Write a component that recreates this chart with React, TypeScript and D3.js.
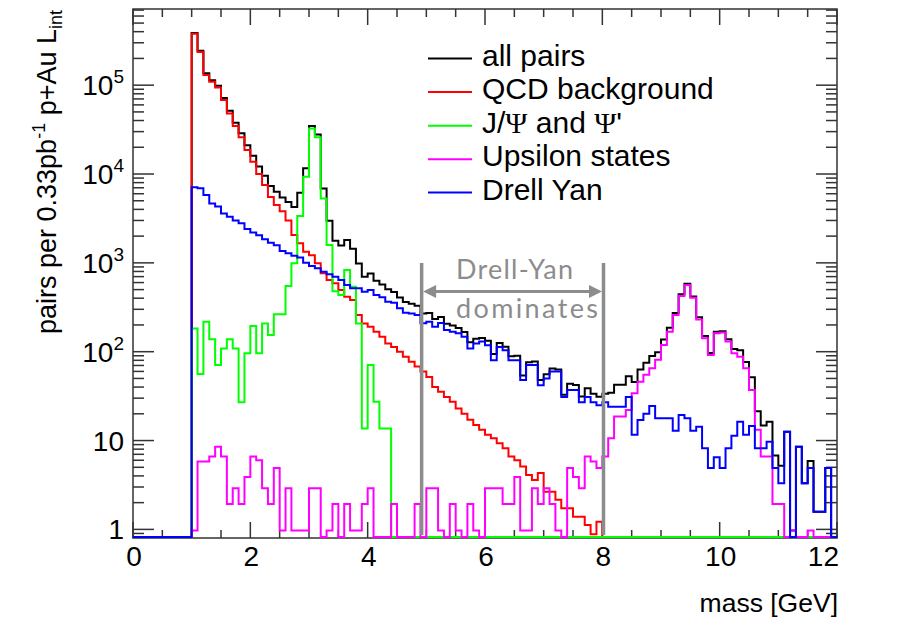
import React, { useEffect, useRef } from 'react'
import * as d3 from 'd3'

// low edges of the 0.1 GeV mass bins, 0 .. 11.9
const massBins = d3.range(120).map(i => i / 10)

const allPairs = [
  0, 0, 0, 0, 0, 0, 0, 0, 0, 0,
  387000, 244000, 136000, 113800, 98400, 71700, 51400, 37700, 28800, 21100,
  16100, 12150, 9550, 7340, 6320, 5425, 4830, 4250, 6170, 11630,
  34740, 27860, 6860, 2975, 1768, 1569, 1811, 1438, 985, 697,
  759, 629, 570, 503, 471, 408, 363, 347, 329, 269,
  273, 234, 246, 206, 197, 185, 167, 128, 140, 143,
  133, 94, 125, 114, 89, 90, 54, 76, 77.5, 48,
  55.6, 64.6, 63, 32.7, 43.6, 42.3, 31.3, 38.7, 33.7, 31.1,
  33.6, 34.6, 42.6, 42.6, 53, 45.6, 63, 75, 89.5, 98.8,
  137, 186, 272, 443, 581, 418, 245, 150, 97, 167.5,
  170, 138, 107, 104, 76.6, 51.6, 21.4, 14.8, 16.3, 6.8,
  5.2, 12.6, 0.97, 8.5, 3.3, 5.9, 1.58, 1.58, 4.9, 0,
]

const qcdBackground = [
  0, 0, 0, 0, 0, 0, 0, 0, 0, 0,
  380000, 237000, 130000, 109000, 94000, 68000, 48000, 34600, 26000, 18600,
  13700, 10000, 7500, 5500, 4470, 3800, 3000, 2060, 1660, 1330,
  1220, 987, 762, 641, 588, 494, 416, 382, 259, 208,
  191, 168, 147, 124, 113, 100, 88, 77, 68, 60,
  52, 40, 35.5, 31, 27.4, 23, 20, 17.1, 15, 13.2,
  11.6, 10.6, 9.3, 8.2, 6.6, 6.0, 5.1, 4.1, 3.6, 4.3,
  2.66, 2.66, 2.15, 1.73, 1.73, 1.39, 1.39, 1.12, 0.88, 1.22,
  0, 0, 0, 0, 0, 0, 0, 0, 0, 0,
  0, 0, 0, 0, 0, 0, 0, 0, 0, 0,
  0, 0, 0, 0, 0, 0, 0, 0, 0, 0,
  0, 0, 0, 0, 0, 0, 0, 0, 0, 0,
]

const jpsi = [
  0, 0, 0, 0, 0, 0, 0, 0, 0, 0,
  183, 56, 218, 138, 71, 109, 138, 109, 27, 96,
  195, 96, 208, 154, 264, 264, 548, 987, 3360, 9300,
  32600, 26000, 5300, 1590, 480, 434, 830, 538, 208, 13.7,
  71, 27.4, 13.7, 13.7, 0, 0, 0, 0, 0, 0,
  0, 0, 0, 0, 0, 0, 0, 0, 0, 0,
  0, 0, 0, 0, 0, 0, 0, 0, 0, 0,
  0, 0, 0, 0, 0, 0, 0, 0, 0, 0,
  0, 0, 0, 0, 0, 0, 0, 0, 0, 0,
  0, 0, 0, 0, 0, 0, 0, 0, 0, 0,
  0, 0, 0, 0, 0, 0, 0, 0, 0, 0,
  0, 0, 0, 0, 0, 0, 0, 0, 0, 0,
]

const upsilon = [
  0, 0, 0, 0, 0, 0, 0, 0, 0, 0,
  0.97, 5.8, 5.8, 6.6, 8.5, 6.6, 1.93, 2.9, 1.93, 3.9,
  6.6, 6.0, 2.9, 1.93, 4.9, 0.97, 2.9, 0.97, 0.97, 0.97,
  2.9, 2.9, 0, 0.97, 1.93, 0, 1.93, 0.97, 0.97, 1.93,
  2.9, 0, 0, 0, 1.93, 0, 0, 0, 1.93, 0,
  2.9, 2.9, 0.97, 0, 1.93, 0.97, 0, 1.93, 0.97, 0,
  2.9, 2.9, 2.9, 1.93, 1.93, 3.9, 0.97, 0.97, 2.9, 1.93,
  2.9, 1.93, 0.97, 0, 4.9, 3.9, 2.9, 6.6, 5.8, 4.9,
  6.6, 10.6, 18.6, 18.6, 22, 34, 46, 55, 65, 81,
  119, 168, 259, 424, 563, 405, 231, 142, 92, 161,
  165, 130, 96, 88, 65, 37, 13.2, 6.6, 6.6, 1.93,
  1.93, 0, 0.97, 0, 0, 0.97, 0, 0, 0, 0,
]

const drellYan = [
  0, 0, 0, 0, 0, 0, 0, 0, 0, 0,
  7100, 6900, 5800, 4670, 4300, 3600, 3300, 3000, 2800, 2400,
  2200, 2050, 1840, 1680, 1580, 1360, 1280, 1200, 1150, 1000,
  920, 867, 794, 743, 698, 641, 563, 517, 517, 473,
  494, 434, 409, 365, 356, 308, 275, 270, 259, 209,
  218, 191, 210, 175, 168, 161, 147, 109, 124, 130,
  118, 80, 113, 104, 80, 80, 48, 71, 71, 42,
  50, 60, 60, 31, 37, 37, 27, 31, 27, 25,
  27, 24, 24, 24, 31, 11.6, 17, 20, 24.5, 17.8,
  17.8, 17.8, 12.9, 19.4, 17.8, 12.9, 14.3, 8.2, 4.9, 6.5,
  4.9, 8.2, 11.3, 16.3, 11.6, 14.6, 8.2, 8.2, 9.7, 4.9,
  3.3, 12.6, 0, 8.5, 3.3, 4.9, 1.58, 1.58, 4.9, 0,
]

const series = [
  { name: 'all pairs', color: '#000000', values: allPairs },
  { name: 'QCD background', color: '#ff0000', values: qcdBackground },
  { name: 'J/Ψ and Ψ\'', color: '#00ff00', values: jpsi },
  { name: 'Upsilon states', color: '#ff00ff', values: upsilon },
  { name: 'Drell Yan', color: '#0000ff', values: drellYan },
]

const xTicks = [0, 2, 4, 6, 8, 10, 12]
const decades = [1, 10, 100, 1000, 10000, 100000]

const W = 898
const H = 627
const FONT = "'Liberation Sans', Arial, Helvetica, sans-serif"

const App = () => {
  const ref = useRef<SVGSVGElement>(null)

  useEffect(() => {
    const svg = d3.select(ref.current)
    svg.selectAll('*').remove()

    const left = 133, right = 837, top = 9, bottom = 538

    const x = d3.scaleLinear().domain([0, 12]).range([left, right])
    const y = d3.scaleLog().domain([0.8, 7.2e5]).range([bottom, top]).clamp(true)
    const yv = (v: number) => (v > 0 ? y(v) : bottom - 1)

    svg.append('rect').attr('width', W).attr('height', H).attr('fill', 'white')

    const axisColor = '#333'

    // frame
    svg
      .append('rect')
      .attr('x', left)
      .attr('y', top)
      .attr('width', right - left)
      .attr('height', bottom - top)
      .attr('fill', 'none')
      .attr('stroke', axisColor)
      .attr('stroke-width', 1.5)

    // x ticks (bottom + top)
    const xt = svg.append('g').attr('stroke', axisColor).attr('stroke-width', 1.5)
    d3.range(0, 12.01, 0.5).forEach(m => {
      const len = Math.abs(m % 2) < 1e-6 ? 16 : 8
      xt.append('line').attr('x1', x(m)).attr('x2', x(m)).attr('y1', bottom).attr('y2', bottom - len)
      xt.append('line').attr('x1', x(m)).attr('x2', x(m)).attr('y1', top).attr('y2', top + len)
    })

    // y ticks (left + right)
    const yt = svg.append('g').attr('stroke', axisColor).attr('stroke-width', 1.5)
    const minor: number[] = [0.9]
    decades.forEach(dec => {
      for (let k = 2; k <= 9; k++) if (dec * k <= 7.2e5) minor.push(dec * k)
    })
    decades.forEach(v => {
      yt.append('line').attr('x1', left).attr('x2', left + 21).attr('y1', y(v)).attr('y2', y(v))
      yt.append('line').attr('x1', right).attr('x2', right - 21).attr('y1', y(v)).attr('y2', y(v))
    })
    minor.forEach(v => {
      yt.append('line').attr('x1', left).attr('x2', left + 11).attr('y1', y(v)).attr('y2', y(v))
      yt.append('line').attr('x1', right).attr('x2', right - 11).attr('y1', y(v)).attr('y2', y(v))
    })

    // histograms
    const line = d3
      .line<[number, number]>()
      .x(d => x(d[0]))
      .y(d => yv(d[1]))
      .curve(d3.curveStepAfter)

    series.forEach(s => {
      const pts: [number, number][] = massBins.map((m, i) => [m, s.values[i]])
      pts.push([12, s.values[s.values.length - 1]])
      svg
        .append('path')
        .attr('d', line(pts))
        .attr('fill', 'none')
        .attr('stroke', s.color)
        .attr('stroke-width', 2)
    })

    // x labels (last one ends at the frame edge)
    svg
      .append('g')
      .attr('font-family', FONT)
      .attr('font-size', 28)
      .selectAll('text')
      .data(xTicks)
      .join('text')
      .attr('text-anchor', d => (d === 12 ? 'end' : 'middle'))
      .attr('x', d => (d === 12 ? right + 2 : x(d) + 1))
      .attr('y', 566)
      .text(d => d)

    // y labels
    const yl = svg.append('g').attr('font-family', FONT).attr('font-size', 28).attr('text-anchor', 'end')
    decades.forEach(v => {
      const t = yl.append('text').attr('x', 124).attr('y', y(v) + 10)
      if (v < 100) {
        t.text(v)
      } else {
        t.append('tspan').text('10')
        t.append('tspan')
          .attr('font-size', 19)
          .attr('dy', -12)
          .text(Math.round(Math.log10(v)))
      }
    })

    // axis titles
    svg
      .append('text')
      .attr('font-family', FONT)
      .attr('font-size', 26.5)
      .attr('text-anchor', 'end')
      .attr('x', 838)
      .attr('y', 612)
      .text('mass [GeV]')

    const yTitle = svg
      .append('text')
      .attr('font-family', FONT)
      .attr('font-size', 27)
      .attr('text-anchor', 'end')
      .attr('transform', 'translate(56, 10) rotate(-90)')
    yTitle.append('tspan').text('pairs per 0.33pb')
    yTitle.append('tspan').attr('font-size', 18).attr('dy', -11).text('-1')
    yTitle.append('tspan').attr('dy', 11).text(' p+Au L')
    yTitle.append('tspan').attr('font-size', 18).attr('dy', 6).text('int')

    // legend
    const legendY = [58.5, 92, 125.7, 159.2, 192.5]
    const lg = svg.append('g').attr('font-family', FONT).attr('font-size', 30)
    series.forEach((s, i) => {
      lg.append('line')
        .attr('x1', 428)
        .attr('x2', 472)
        .attr('y1', legendY[i])
        .attr('y2', legendY[i])
        .attr('stroke', s.color)
        .attr('stroke-width', 2)
      const t = lg.append('text').attr('x', 482).attr('y', legendY[i] + 7)
      if (s.name.includes('Ψ')) {
        t.append('tspan').text('J/')
        t.append('tspan').attr('font-family', "'Liberation Serif', serif").text('Ψ')
        t.append('tspan').text(' and ')
        t.append('tspan').attr('font-family', "'Liberation Serif', serif").text('Ψ')
        t.append('tspan').text("'")
      } else {
        t.text(s.name)
      }
    })

    // Drell-Yan dominates annotation
    const gray = '#8c8c8c'
    const ann = svg.append('g')
    ;[4.92, 8.02].forEach(m => {
      ann.append('line')
        .attr('x1', x(m))
        .attr('x2', x(m))
        .attr('y1', 263)
        .attr('y2', 535)
        .attr('stroke', gray)
        .attr('stroke-width', 3.5)
    })
    const ay = 291.5
    const xa = x(4.92) + 1.5
    const xb = x(8.02) - 1.5
    ann.append('line')
      .attr('x1', xa + 8)
      .attr('x2', xb - 8)
      .attr('y1', ay)
      .attr('y2', ay)
      .attr('stroke', gray)
      .attr('stroke-width', 3)
    ann.append('path')
      .attr('d', `M${xa},${ay}L${xa + 13},${ay - 6.5}L${xa + 13},${ay + 6.5}Z`)
      .attr('fill', gray)
    ann.append('path')
      .attr('d', `M${xb},${ay}L${xb - 13},${ay - 6.5}L${xb - 13},${ay + 6.5}Z`)
      .attr('fill', gray)
    const annFont = "Lato, 'Open Sans', sans-serif"
    ann.append('text')
      .attr('font-family', annFont)
      .attr('font-size', 27)
      .attr('fill', gray)
      .attr('x', 456)
      .attr('y', 279)
      .attr('textLength', 117)
      .text('Drell-Yan')
    ann.append('text')
      .attr('font-family', annFont)
      .attr('font-size', 27)
      .attr('fill', gray)
      .attr('x', 456)
      .attr('y', 318)
      .attr('textLength', 142)
      .text('dominates')
  }, [])

  return <svg ref={ref} width={W} height={H} style={{ position: 'absolute', left: 0, top: 0 }} />
}

export default App
